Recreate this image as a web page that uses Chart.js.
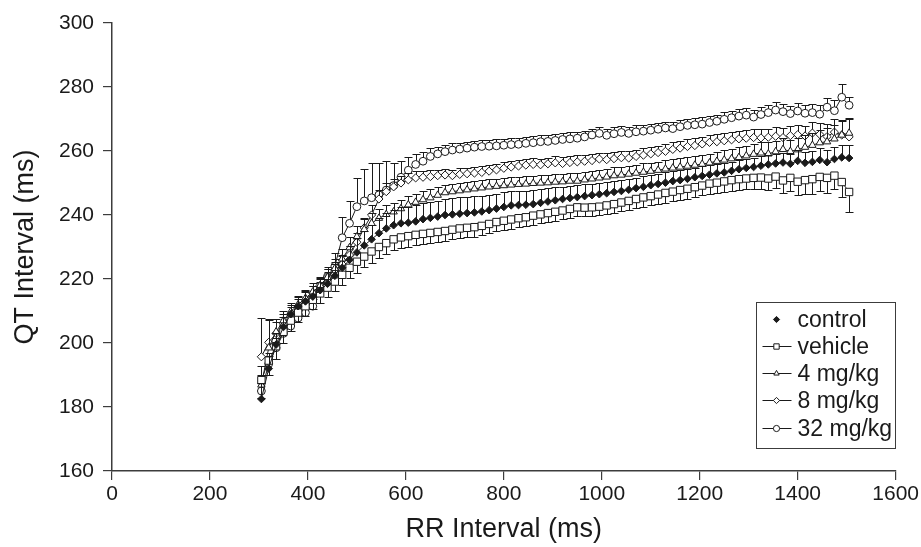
<!DOCTYPE html>
<html>
<head>
<meta charset="utf-8">
<script src="https://cdn.jsdelivr.net/npm/chart.js@4.4.1/dist/chart.umd.min.js"></script>
<style>
	html, body { margin: 0; padding: 0; background: #fff; }
	#chart { display: block; }
</style>
</head>
<body>
<canvas id="chart" width="921" height="547"></canvas>
<script>
// RR interval bins (ms)
const rrInterval = [
	305, 320, 335, 350, 365, 380, 395, 410, 425, 440,
	455, 470, 485, 500, 515, 530, 545, 560, 575, 590,
	605, 620, 635, 650, 665, 680, 695, 710, 725, 740,
	755, 770, 785, 800, 815, 830, 845, 860, 875, 890,
	905, 920, 935, 950, 965, 980, 995, 1010, 1025, 1040,
	1055, 1070, 1085, 1100, 1115, 1130, 1145, 1160, 1175, 1190,
	1205, 1220, 1235, 1250, 1265, 1280, 1295, 1310, 1325, 1340,
	1355, 1370, 1385, 1400, 1415, 1430, 1445, 1460, 1475, 1490,
	1505,
];

// mean QT interval (ms)
const control = [
	182.5, 192.0, 199.5, 205.0, 209.0, 211.5, 213.0, 214.5, 216.5, 218.5,
	221.0, 223.5, 226.0, 228.3, 230.5, 232.4, 234.3, 235.8, 236.8, 237.4,
	237.6, 238.0, 238.7, 239.1, 239.5, 240.0, 240.2, 240.4, 240.6, 240.8,
	241.1, 241.5, 242.0, 242.5, 243.0, 243.1, 243.2, 243.4, 243.8, 244.2,
	244.6, 245.0, 245.3, 245.6, 245.9, 246.2, 246.5, 246.8, 247.2, 247.5,
	247.9, 248.4, 248.8, 249.3, 249.7, 250.1, 250.6, 250.9, 251.3, 251.8,
	252.2, 252.6, 253.0, 253.3, 253.8, 254.3, 254.7, 255.0, 255.4, 255.8,
	256.1, 256.4, 256.0, 256.9, 256.3, 256.6, 257.2, 256.5, 257.5, 258.0,
	257.8,
];
const vehicle = [
	188.4, 194.5, 199.0, 203.5, 207.0, 209.5, 211.5, 213.5, 215.5, 217.3,
	219.2, 221.3, 223.5, 225.4, 227.0, 228.6, 230.0, 231.2, 232.4, 233.0,
	233.4, 233.8, 234.1, 234.4, 234.7, 235.0, 235.4, 235.8, 236.0, 236.2,
	236.6, 237.2, 237.8, 238.2, 238.6, 239.0, 239.3, 239.8, 240.2, 240.6,
	241.0, 241.4, 241.9, 242.4, 242.3, 242.4, 242.6, 243.0, 243.4, 243.9,
	244.4, 245.0, 245.5, 245.9, 246.4, 246.9, 247.3, 247.8, 248.2, 248.7,
	249.2, 249.8, 250.1, 250.5, 250.9, 251.2, 251.4, 251.6, 251.7, 251.4,
	252.0, 250.8, 251.6, 250.4, 250.9, 251.2, 251.9, 251.6, 252.3, 250.3,
	247.2,
];
const dose4 = [
	186.9, 198.5, 203.5, 207.0, 209.8, 212.0, 214.0, 216.0, 218.0, 220.5,
	223.3, 226.3, 229.8, 233.2, 235.5, 237.4, 239.0, 240.2, 241.0, 242.0,
	243.2, 244.0, 244.8, 245.4, 246.2, 247.0, 247.3, 247.6, 247.9, 248.2,
	248.5, 248.8, 249.0, 249.2, 249.4, 249.6, 249.7, 249.9, 250.0, 250.1,
	250.3, 250.4, 250.6, 250.6, 251.0, 251.3, 251.6, 251.9, 252.3, 252.5,
	252.8, 253.1, 253.4, 253.7, 254.0, 254.4, 254.7, 255.0, 255.3, 255.6,
	255.9, 256.3, 256.8, 257.2, 257.6, 258.0, 258.5, 259.0, 259.4, 259.1,
	259.8, 260.5, 259.9, 260.4, 261.2, 261.8, 262.6, 262.9, 263.8, 265.0,
	265.6,
];
const dose8 = [
	195.7, 200.2, 203.0, 206.0, 208.8, 211.3, 213.5, 215.6, 218.0, 220.6,
	222.8, 224.6, 227.5, 231.5, 236.0, 240.0, 245.0, 247.3, 248.8, 250.0,
	251.0, 251.6, 251.8, 252.0, 252.3, 252.5, 252.3, 252.7, 252.9, 253.1,
	253.3, 253.7, 254.1, 254.6, 255.0, 255.3, 255.6, 255.8, 255.7, 256.0,
	256.3, 256.1, 256.4, 256.6, 256.8, 257.0, 257.5, 257.3, 257.6, 257.9,
	257.8, 258.3, 258.7, 259.1, 259.5, 259.9, 260.5, 260.9, 261.4, 261.7,
	262.2, 262.7, 262.9, 263.2, 263.5, 263.8, 264.0, 264.2, 264.1, 264.3,
	264.6, 264.2, 264.8, 265.1, 264.7, 265.6, 265.2, 264.5, 265.9, 265.0,
	264.4,
];
const dose32 = [
	185.0, 193.5, 198.5, 203.0, 205.3, 207.8, 209.5, 211.5, 216.6, 220.8,
	224.0, 232.9, 237.4, 242.6, 244.4, 245.4, 246.3, 247.8, 249.2, 251.8,
	254.0, 255.8, 256.8, 258.3, 259.1, 259.8, 260.3, 260.6, 260.9, 261.2,
	261.4, 261.5, 261.6, 261.8, 262.0, 262.1, 262.4, 262.6, 262.9, 263.0,
	263.3, 263.6, 263.8, 264.0, 264.4, 265.0, 265.5, 264.9, 265.4, 265.8,
	265.5, 266.0, 266.2, 266.5, 266.8, 267.2, 267.0, 267.6, 268.0, 268.2,
	268.4, 268.9, 269.3, 269.9, 270.4, 270.9, 271.2, 270.6, 271.4, 272.0,
	272.8, 272.3, 271.7, 272.5, 271.8, 272.0, 271.5, 273.7, 272.6, 276.8,
	274.3,
];

// SEM (ms); control and doses drawn upward, vehicle downward
const controlErr = [
	4.9, 4.0, 3.5, 3.2, 3.0, 3.0, 3.2, 3.3, 3.5, 3.6,
	3.8, 4.0, 4.2, 4.4, 4.5, 4.6, 4.7, 4.8, 4.9, 5.0,
	5.0, 5.1, 5.1, 5.0, 5.0, 5.1, 5.2, 5.1, 5.0, 5.0,
	4.9, 4.8, 4.7, 4.6, 4.5, 4.4, 4.3, 4.3, 4.2, 4.1,
	4.0, 3.9, 3.8, 3.8, 3.7, 3.6, 3.6, 3.5, 3.5, 3.4,
	3.4, 3.3, 3.3, 3.3, 3.2, 3.2, 3.1, 3.1, 3.0, 3.0,
	3.0, 2.9, 2.9, 2.9, 2.8, 2.8, 2.8, 2.9, 2.9, 3.0,
	3.0, 3.1, 3.2, 3.3, 3.4, 3.5, 3.6, 3.7, 3.8, 3.9,
	4.0,
];
const vehicleErr = [
	5.5, 4.5, 4.0, 3.5, 3.2, 3.0, 3.0, 3.0, 3.0, 3.0,
	3.1, 3.2, 3.3, 3.4, 3.4, 3.5, 3.5, 3.4, 3.4, 3.3,
	3.3, 3.2, 3.2, 3.2, 3.1, 3.1, 3.0, 3.0, 3.0, 3.0,
	3.0, 2.9, 2.9, 2.9, 2.9, 2.8, 2.8, 2.8, 2.8, 2.8,
	2.8, 2.7, 2.7, 2.7, 2.7, 2.7, 2.7, 2.8, 2.8, 2.8,
	2.8, 2.9, 2.9, 2.9, 3.0, 3.0, 3.0, 3.0, 3.1, 3.1,
	3.1, 3.2, 3.2, 3.2, 3.3, 3.3, 3.4, 3.5, 3.5, 3.6,
	3.7, 3.8, 4.0, 4.2, 4.4, 4.5, 4.3, 4.6, 4.2, 4.8,
	6.3,
];
const dose4Err = [
	6.0, 9.0, 4.0, 3.0, 2.8, 2.7, 2.6, 2.6, 2.6, 2.7,
	2.8, 3.0, 3.2, 3.3, 3.3, 3.2, 3.0, 2.9, 2.8, 2.8,
	2.7, 2.7, 2.6, 2.6, 2.6, 2.5, 2.5, 2.5, 2.5, 2.5,
	2.5, 2.4, 2.4, 2.4, 2.4, 2.4, 2.4, 2.4, 2.4, 2.4,
	2.5, 2.5, 2.5, 2.5, 2.5, 2.5, 2.5, 2.6, 2.6, 2.6,
	2.6, 2.6, 2.7, 2.7, 2.7, 2.7, 2.8, 2.8, 2.8, 2.8,
	2.9, 2.9, 3.0, 3.0, 3.0, 3.1, 3.1, 3.2, 3.3, 3.8,
	3.4, 3.5, 3.6, 3.6, 3.8, 3.9, 4.0, 4.2, 4.4, 4.5,
	4.8,
];
const dose8Err = [
	12.0, 7.0, 3.5, 3.0, 2.6, 2.4, 2.3, 2.3, 2.3, 2.4,
	2.5, 2.6, 2.8, 3.0, 3.2, 3.0, 2.8, 2.6, 2.4, 2.2,
	2.1, 2.0, 2.0, 2.0, 1.9, 1.9, 1.9, 1.9, 1.9, 1.9,
	1.9, 1.9, 1.9, 1.9, 1.9, 1.9, 1.9, 1.9, 1.9, 1.9,
	2.0, 2.0, 2.0, 2.0, 2.0, 2.0, 2.0, 2.0, 2.0, 2.1,
	2.1, 2.1, 2.1, 2.1, 2.2, 2.2, 2.2, 2.2, 2.3, 2.3,
	2.3, 2.4, 2.4, 2.4, 2.5, 2.5, 2.6, 2.6, 2.7, 2.7,
	2.8, 2.9, 3.0, 3.1, 3.2, 3.4, 3.6, 3.8, 4.2, 4.8,
	5.6,
];
const dose32Err = [
	5.0, 3.5, 3.0, 2.5, 2.3, 2.2, 2.2, 2.3, 2.5, 3.0,
	4.0, 6.5, 7.0, 9.0, 10.0, 11.0, 10.0, 9.0, 7.0, 5.0,
	4.0, 3.2, 2.8, 2.5, 2.3, 2.2, 2.1, 2.0, 2.0, 2.0,
	2.0, 2.0, 2.0, 2.0, 2.0, 2.0, 2.0, 2.0, 2.0, 2.0,
	2.0, 2.0, 2.0, 2.0, 2.0, 2.0, 2.0, 2.0, 2.0, 2.0,
	2.0, 2.0, 2.0, 2.0, 2.0, 2.0, 2.0, 2.0, 2.1, 2.1,
	2.1, 2.1, 2.1, 2.2, 2.2, 2.2, 2.2, 2.3, 2.3, 2.3,
	2.4, 2.4, 2.5, 2.5, 2.6, 2.7, 2.8, 3.0, 3.2, 4.0,
	2.6,
];

const xTicks = { min: 0, max: 1600, step: 200 };
const yTicks = { min: 160, max: 300, step: 20 };

const FONT = '"Liberation Sans", Arial, Helvetica, sans-serif';
const INK = '#1a1a1a';
const AXIS = '#3c3c3c';

const toPoints = (values) => values.map((y, i) => ({ x: rrInterval[i], y }));

const makeDataset = (label, values, err, errDir, pointStyle, radius, fillColor, legendLine) => ({
	label,
	data: toPoints(values),
	err,
	errDir,
	legendLine,
	showLine: true,
	borderColor: INK,
	borderWidth: 1,
	tension: 0,
	fill: false,
	pointStyle,
	pointRadius: radius,
	pointBackgroundColor: fillColor,
	pointBorderColor: INK,
	pointBorderWidth: 1,
});

// one-sided error bars, drawn just before each series so its markers sit on top
const errorBars = {
	id: 'errorBars',
	beforeDatasetDraw(chart, args) {
		const ds = chart.data.datasets[args.index];
		const yScale = chart.scales.y;
		const ctx = chart.ctx;
		ctx.save();
		ctx.strokeStyle = INK;
		ctx.lineWidth = 1;
		ctx.beginPath();
		args.meta.data.forEach((pt, i) => {
			const end = Math.round(yScale.getPixelForValue(ds.data[i].y + ds.errDir * ds.err[i])) + 0.5;
			const px = Math.round(pt.x) + 0.5;
			ctx.moveTo(px, pt.y);
			ctx.lineTo(px, end);
			ctx.moveTo(px - 4, end);
			ctx.lineTo(px + 4, end);
		});
		ctx.stroke();
		ctx.restore();
	},
};

// boxed legend in the lower right corner of the plot
const boxLegend = {
	id: 'boxLegend',
	afterDraw(chart) {
		const { ctx, chartArea } = chart;
		const w = 139;
		const h = 146;
		const left = Math.round(chartArea.right - w - 1) + 0.5;
		const top = Math.round(chartArea.bottom - h - 23) + 0.5;
		ctx.save();
		ctx.fillStyle = '#fff';
		ctx.fillRect(left, top, w, h);
		ctx.strokeStyle = AXIS;
		ctx.lineWidth = 1;
		ctx.strokeRect(left, top, w, h);
		ctx.font = '23px ' + FONT;
		ctx.textBaseline = 'middle';
		chart.data.datasets.forEach((ds, i) => {
			const cy = Math.round(top + 16 + i * 27.3) + 0.5;
			const cx = left + 20;
			if (ds.legendLine) {
				ctx.strokeStyle = INK;
				ctx.beginPath();
				ctx.moveTo(left + 6, cy);
				ctx.lineTo(left + 35, cy);
				ctx.stroke();
			}
			ctx.fillStyle = ds.pointBackgroundColor;
			ctx.strokeStyle = INK;
			ctx.lineWidth = 1;
			Chart.helpers.drawPoint(ctx, {
				pointStyle: ds.pointStyle,
				radius: ds.pointStyle === 'rect' ? 3.8 : 3.1,
				rotation: 0,
				borderWidth: 1,
			}, cx, cy);
			ctx.fillStyle = INK;
			ctx.fillText(ds.label, left + 41, cy + 1);
		});
		ctx.restore();
	},
};

const axisFont = (size) => ({ family: FONT, size });

new Chart(document.getElementById('chart'), {
	type: 'line',
	data: {
		datasets: [
			makeDataset('control', control, controlErr, 1, 'rectRot', 3.8, INK, false),
			makeDataset('vehicle', vehicle, vehicleErr, -1, 'rect', 5.2, '#fff', true),
			makeDataset('4 mg/kg', dose4, dose4Err, 1, 'triangle', 4.3, '#fff', true),
			makeDataset('8 mg/kg', dose8, dose8Err, 1, 'rectRot', 4.1, '#fff', true),
			makeDataset('32 mg/kg', dose32, dose32Err, 1, 'circle', 3.9, '#fff', true),
		],
	},
	options: {
		responsive: false,
		devicePixelRatio: 1,
		animation: false,
		layout: {
			padding: { top: 23, right: 24, bottom: 0, left: 0 },
		},
		plugins: {
			legend: { display: false },
			tooltip: { enabled: false },
		},
		scales: {
			x: {
				type: 'linear',
				min: xTicks.min,
				max: xTicks.max,
				ticks: {
					stepSize: xTicks.step,
					color: INK,
					font: axisFont(21),
					padding: 2,
					maxRotation: 0,
					callback: (value) => String(value),
				},
				grid: { display: true, drawOnChartArea: false, drawTicks: true, tickLength: 9, color: AXIS, lineWidth: 1.2 },
				border: { display: true, color: AXIS, width: 1.5 },
				title: { display: true, text: 'RR Interval (ms)', color: INK, font: axisFont(27), padding: { top: 0, bottom: 1 } },
				afterFit(scale) { scale.height = 76; },
			},
			y: {
				type: 'linear',
				min: yTicks.min,
				max: yTicks.max,
				ticks: { stepSize: yTicks.step, color: INK, font: axisFont(21), padding: 9 },
				grid: { display: true, drawOnChartArea: false, drawTicks: true, tickLength: 9, color: AXIS, lineWidth: 1.2 },
				border: { display: true, color: AXIS, width: 1.5 },
				title: { display: true, text: 'QT Interval (ms)', color: INK, font: axisFont(27), padding: { top: 9, bottom: 0 } },
				afterFit(scale) { scale.width = 112; },
			},
		},
	},
	plugins: [errorBars, boxLegend],
});
</script>
</body>
</html>
